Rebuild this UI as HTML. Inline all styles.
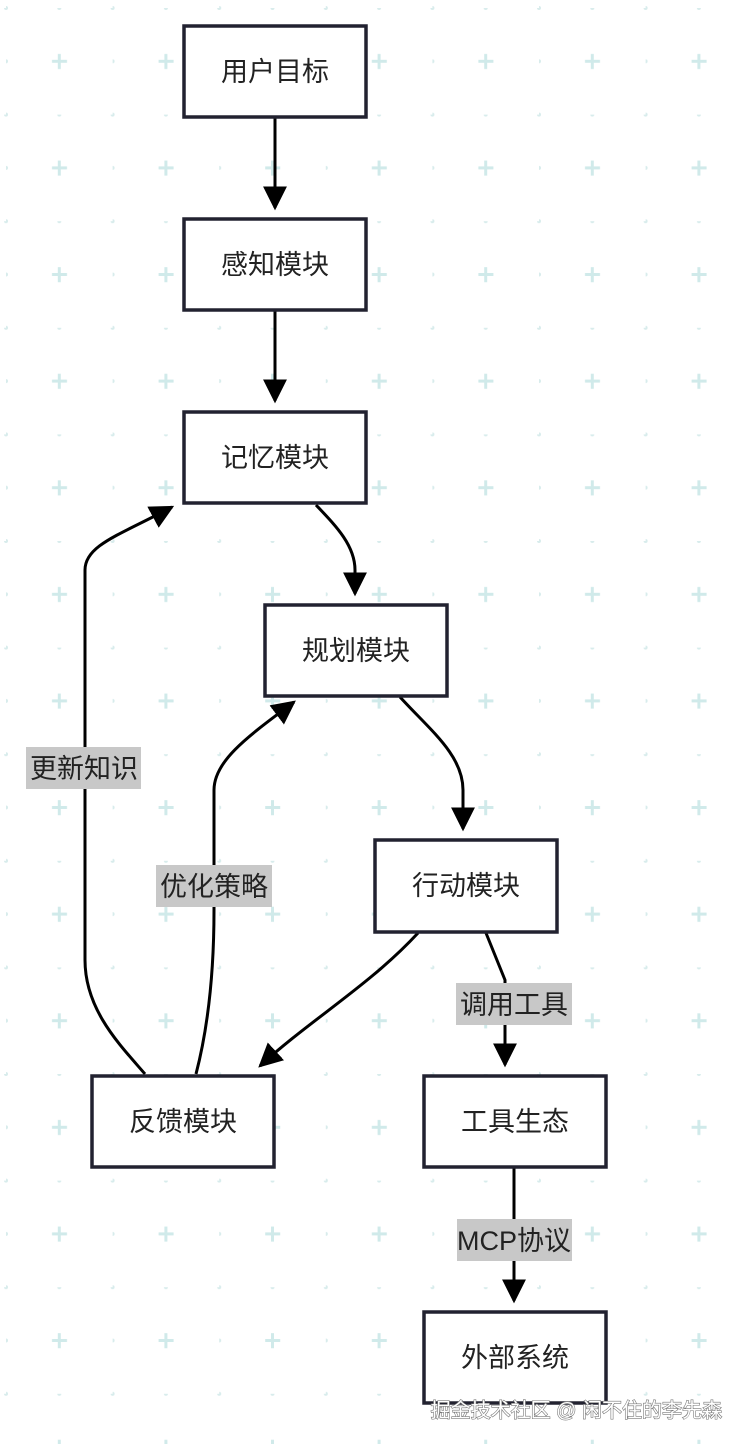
<!DOCTYPE html>
<html><head><meta charset="utf-8"><style>
html,body{margin:0;padding:0;background:#fff}
body{width:748px;height:1444px;position:relative;overflow:hidden;font-family:"Liberation Sans","Noto Sans CJK SC",sans-serif}
svg{position:absolute;left:0;top:0}
</style></head><body>
<svg width="748" height="1444" viewBox="0 0 748 1444" xmlns="http://www.w3.org/2000/svg">
<defs>
<pattern id="g" x="6" y="8" width="106.6" height="106.6" patternUnits="userSpaceOnUse">
<circle cx="0" cy="0" r="2" fill="#d8ecec"/><circle cx="53.3" cy="0" r="2" fill="#d8ecec"/>
<circle cx="0" cy="53.3" r="2" fill="#d8ecec"/>
<path d="M53.3 46v15M46 53.3h15" stroke="#d0eaea" stroke-width="3"/>
<circle cx="106.6" cy="0" r="2" fill="#d8ecec"/><circle cx="0" cy="106.6" r="2" fill="#d8ecec"/>
</pattern>
<marker id="b" viewBox="0 0 10 10" refX="9" refY="5" markerWidth="24" markerHeight="24" markerUnits="userSpaceOnUse" orient="auto"><path d="M0 0L10 5L0 10z" fill="#000"/></marker>
</defs>
<rect width="748" height="1444" fill="url(#g)"/>
<g fill="none" stroke="#000" stroke-width="3" marker-end="url(#b)">
<path d="M275 118V208"/>
<path d="M275 311V401"/>
<path d="M316 505C335 525 355 545 355 570V594"/>
<path d="M400 697C430 730 463 755 463 790V829"/>
<path d="M486 933L505 980V1065"/>
<path d="M514 1168V1301"/>
<path d="M418 933C370 985 310 1020 260 1066"/>
<path d="M145 1074C120 1045 85 1010 85 960V570C85 545 120 535 172 507"/>
<path d="M196 1074C210 1020 214 960 214 910V790C214 760 250 735 294 702"/>
</g>
<g fill="#c8c8c8">
<rect x="26" y="747" width="115" height="42"/>
<rect x="156" y="865" width="116" height="42"/>
<rect x="456" y="983" width="116" height="42"/>
<rect x="457" y="1219" width="115" height="42"/>
</g>
<g fill="#fff" stroke="#222230" stroke-width="3.5">
<rect x="184" y="26" width="182" height="91"/>
<rect x="184" y="219" width="182" height="91"/>
<rect x="184" y="412" width="182" height="91"/>
<rect x="265" y="605" width="182" height="91"/>
<rect x="375" y="840" width="182" height="92"/>
<rect x="92" y="1076" width="182" height="91"/>
<rect x="424" y="1076" width="182" height="91"/>
<rect x="424" y="1312" width="182" height="91"/>
</g>
<g font-size="27" fill="#222" text-anchor="middle" font-family="Liberation Sans, Noto Sans CJK SC, sans-serif">
<text x="275" y="81">用户目标</text>
<text x="275" y="274">感知模块</text>
<text x="275" y="467">记忆模块</text>
<text x="356" y="660">规划模块</text>
<text x="466" y="895">行动模块</text>
<text x="183" y="1131">反馈模块</text>
<text x="515" y="1131">工具生态</text>
<text x="515" y="1367">外部系统</text>
<text x="84" y="778">更新知识</text>
<text x="214" y="896">优化策略</text>
<text x="514" y="1014">调用工具</text>
<text x="514" y="1250">MCP协议</text>
</g>
<text x="722" y="1417" text-anchor="end" font-size="20" fill="#fff" stroke="#777" stroke-width="1.2" paint-order="stroke" font-family="Liberation Sans, Noto Sans CJK SC, sans-serif">掘金技术社区 @ 闲不住的李先森</text>
</svg>
</body></html>
